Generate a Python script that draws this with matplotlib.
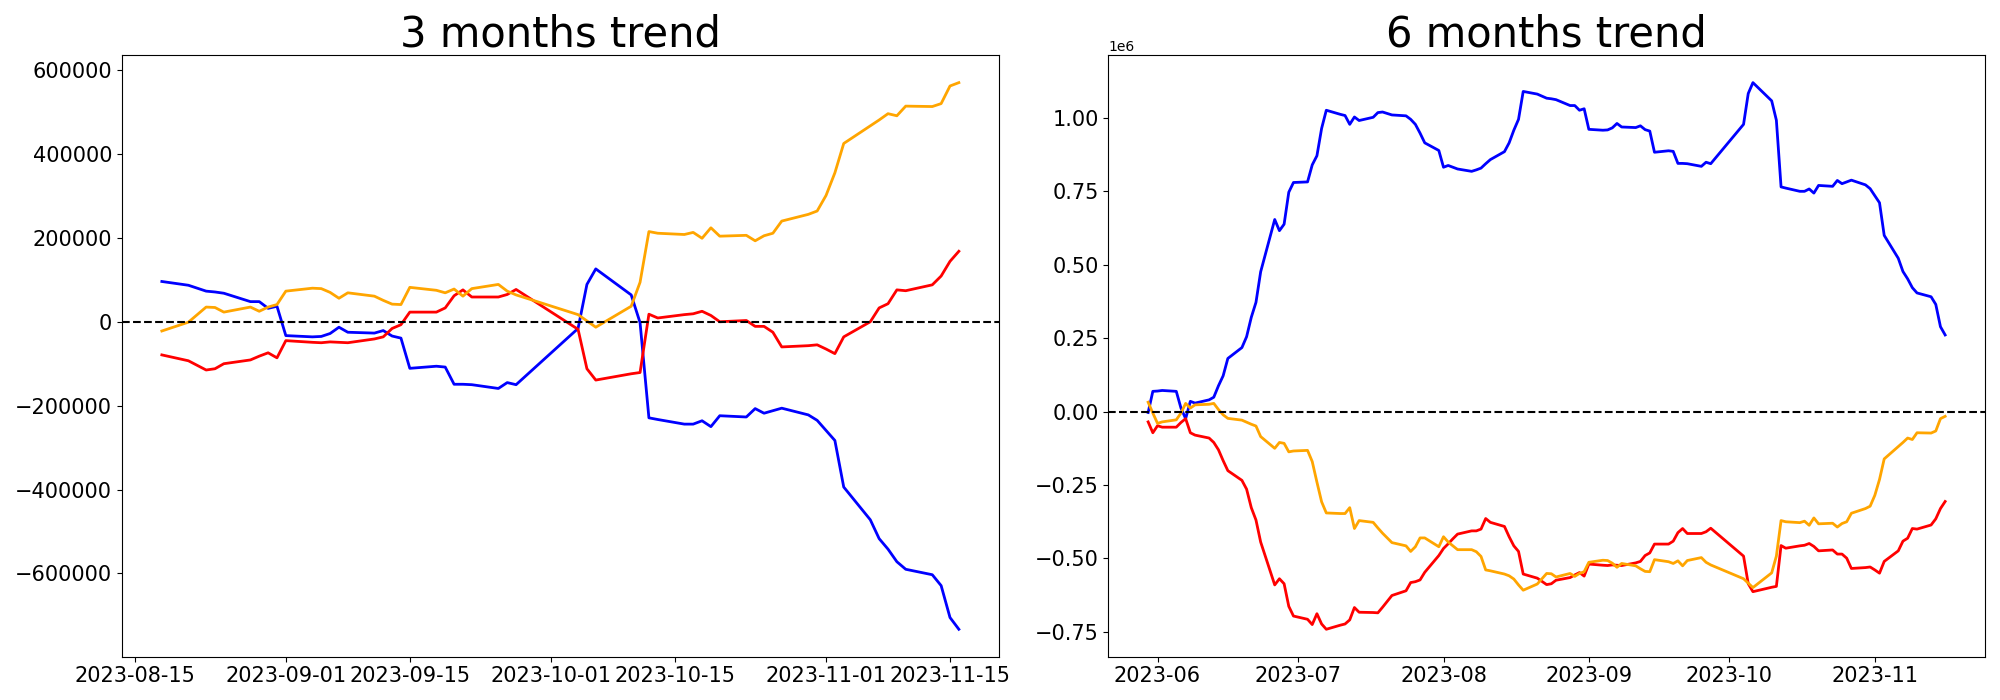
import numpy as np
import pandas as pd
import matplotlib
matplotlib.use('Agg')
import matplotlib.pyplot as plt

# trading days of the 3 month window
dates_3m = ['2023-08-18', '2023-08-21', '2023-08-23', '2023-08-24', '2023-08-25', '2023-08-28',
            '2023-08-29', '2023-08-30', '2023-08-31',
            '2023-09-01', '2023-09-04', '2023-09-05', '2023-09-06', '2023-09-07', '2023-09-08',
            '2023-09-11', '2023-09-12', '2023-09-13', '2023-09-14', '2023-09-15', '2023-09-18',
            '2023-09-19', '2023-09-20', '2023-09-21', '2023-09-22', '2023-09-25', '2023-09-26',
            '2023-09-27',
            '2023-10-04', '2023-10-05', '2023-10-06', '2023-10-10', '2023-10-11', '2023-10-12',
            '2023-10-13', '2023-10-16', '2023-10-17', '2023-10-18', '2023-10-19', '2023-10-20',
            '2023-10-23', '2023-10-24', '2023-10-25', '2023-10-26', '2023-10-27', '2023-10-30',
            '2023-10-31',
            '2023-11-01', '2023-11-02', '2023-11-03', '2023-11-06', '2023-11-07', '2023-11-08',
            '2023-11-09', '2023-11-10', '2023-11-13', '2023-11-14', '2023-11-15', '2023-11-16']

blue_3m = [96000, 87000, 73000, 71000, 68000, 48000, 48000, 32000, 37000,
           -33000, -36000, -35000, -28000, -13000, -25000, -27000, -21000, -34000, -39000,
           -111000, -106000, -108000, -149000, -149000, -150000, -159000, -145000, -150000,
           -16000, 89000, 126000, 64000, -2000, -229000, -233000, -244000, -244000, -236000,
           -250000, -224000, -227000, -207000, -218000, -212000, -206000, -222000, -235000,
           -259000, -283000, -394000, -472000, -517000, -542000, -572000, -590000, -603000,
           -629000, -705000, -733000]
red_3m = [-79000, -93000, -115000, -112000, -100000, -91000, -82000, -74000, -86000,
          -45000, -49000, -50000, -48000, -49000, -50000, -41000, -36000, -16000, -7000,
          23000, 23000, 33000, 62000, 76000, 59000, 59000, 65000, 77000,
          -18000, -112000, -139000, -124000, -121000, 18000, 9000, 17000, 19000, 25000,
          15000, 0, 3000, -11000, -11000, -25000, -60000, -57000, -55000,
          -65000, -76000, -36000, 0, 33000, 43000, 76000, 74000, 88000, 109000, 144000, 168000]
orange_3m = [-22000, -1000, 35000, 34000, 23000, 35000, 25000, 35000, 41000,
             73000, 80000, 79000, 70000, 56000, 69000, 61000, 51000, 42000, 41000,
             82000, 75000, 69000, 78000, 61000, 79000, 89000, 73000, 64000,
             17000, 2000, -13000, 37000, 94000, 215000, 211000, 208000, 213000, 199000,
             224000, 204000, 206000, 193000, 205000, 211000, 240000, 256000, 264000,
             301000, 355000, 425000, 467000, 481000, 496000, 491000, 514000, 513000,
             520000, 562000, 570000]

# trading days before the 3 month window (6 month chart)
dates_early = ['2023-05-30', '2023-05-31',
               '2023-06-01', '2023-06-02', '2023-06-05', '2023-06-06', '2023-06-07', '2023-06-08',
               '2023-06-09', '2023-06-12', '2023-06-13', '2023-06-14', '2023-06-15', '2023-06-16',
               '2023-06-19', '2023-06-20', '2023-06-21', '2023-06-22', '2023-06-23', '2023-06-26',
               '2023-06-27', '2023-06-28', '2023-06-29', '2023-06-30',
               '2023-07-03', '2023-07-04', '2023-07-05', '2023-07-06', '2023-07-07', '2023-07-10',
               '2023-07-11', '2023-07-12', '2023-07-13', '2023-07-14', '2023-07-17', '2023-07-18',
               '2023-07-19', '2023-07-20', '2023-07-21', '2023-07-24', '2023-07-25', '2023-07-26',
               '2023-07-27', '2023-07-28', '2023-07-31',
               '2023-08-01', '2023-08-02', '2023-08-03', '2023-08-04', '2023-08-07', '2023-08-08',
               '2023-08-09', '2023-08-10', '2023-08-11', '2023-08-14', '2023-08-15', '2023-08-16',
               '2023-08-17']
dates_6m = dates_early + dates_3m

# 6 month values in millions
blue_6m = [-0.003, 0.069,
           0.070, 0.072, 0.069, 0.012, -0.024, 0.035, 0.029, 0.040, 0.049, 0.088, 0.122, 0.181,
           0.218, 0.255, 0.321, 0.372, 0.476, 0.654, 0.616, 0.638, 0.747, 0.780,
           0.782, 0.840, 0.871, 0.964, 1.026, 1.012, 1.008, 0.978, 1.003, 0.991, 1.002, 1.018,
           1.020, 1.015, 1.010, 1.007, 0.995, 0.978, 0.948, 0.915, 0.889,
           0.832, 0.838, 0.832, 0.826, 0.818, 0.823, 0.829, 0.844, 0.858, 0.885, 0.915, 0.958,
           0.995,
           1.090, 1.081, 1.067, 1.065, 1.062, 1.042, 1.042, 1.026, 1.031,
           0.961, 0.958, 0.959, 0.966, 0.981, 0.969, 0.967, 0.973, 0.960, 0.955,
           0.883, 0.888, 0.886, 0.845, 0.845, 0.844, 0.835, 0.849, 0.844,
           0.978, 1.083, 1.120, 1.058, 0.992, 0.765, 0.761, 0.750, 0.750, 0.758,
           0.744, 0.770, 0.767, 0.787, 0.776, 0.782, 0.788, 0.772, 0.759,
           0.735, 0.711, 0.600, 0.522, 0.477, 0.452, 0.422, 0.404, 0.391, 0.365, 0.289, 0.261]
red_6m = [-0.035, -0.072,
          -0.048, -0.053, -0.053, -0.037, -0.024, -0.072, -0.080, -0.090, -0.105, -0.130,
          -0.167, -0.201, -0.234, -0.264, -0.327, -0.369, -0.444, -0.590, -0.569, -0.586,
          -0.663, -0.696,
          -0.707, -0.725, -0.688, -0.723, -0.741, -0.727, -0.723, -0.709, -0.667, -0.683,
          -0.684, -0.685, -0.666, -0.646, -0.626, -0.610, -0.582, -0.579, -0.573, -0.547,
          -0.490,
          -0.466, -0.450, -0.433, -0.417, -0.406, -0.406, -0.400, -0.364, -0.377, -0.391,
          -0.426, -0.457, -0.476,
          -0.553, -0.567, -0.589, -0.586, -0.574, -0.565, -0.556, -0.548, -0.560,
          -0.519, -0.523, -0.524, -0.522, -0.523, -0.524, -0.515, -0.510, -0.490, -0.481,
          -0.451, -0.451, -0.441, -0.412, -0.398, -0.415, -0.415, -0.409, -0.397,
          -0.492, -0.586, -0.613, -0.598, -0.595, -0.456, -0.465, -0.457, -0.455, -0.449,
          -0.459, -0.474, -0.471, -0.485, -0.485, -0.499, -0.534, -0.531, -0.529,
          -0.539, -0.550, -0.510, -0.474, -0.441, -0.431, -0.398, -0.400, -0.386, -0.365,
          -0.330, -0.306]
orange_6m = [0.032, -0.005,
             -0.040, -0.035, -0.028, -0.005, 0.028, 0.012, 0.023, 0.025, 0.028, 0.007, -0.011,
             -0.023, -0.029, -0.036, -0.043, -0.049, -0.085, -0.125, -0.105, -0.108, -0.137,
             -0.134,
             -0.132, -0.170, -0.240, -0.307, -0.345, -0.347, -0.347, -0.327, -0.398, -0.371,
             -0.377, -0.396, -0.414, -0.430, -0.446, -0.457, -0.476, -0.460, -0.430, -0.430,
             -0.460,
             -0.426, -0.444, -0.457, -0.470, -0.470, -0.477, -0.493, -0.539, -0.542, -0.553,
             -0.559, -0.570, -0.590,
             -0.608, -0.587, -0.551, -0.552, -0.563, -0.551, -0.561, -0.551, -0.545,
             -0.513, -0.506, -0.507, -0.516, -0.530, -0.517, -0.525, -0.535, -0.544, -0.545,
             -0.504, -0.511, -0.517, -0.508, -0.525, -0.507, -0.497, -0.513, -0.522,
             -0.569, -0.584, -0.599, -0.549, -0.492, -0.371, -0.375, -0.378, -0.373, -0.387,
             -0.362, -0.382, -0.380, -0.393, -0.381, -0.375, -0.346, -0.330, -0.322,
             -0.285, -0.231, -0.161, -0.119, -0.105, -0.090, -0.095, -0.072, -0.073, -0.066,
             -0.024, -0.016]

titles = ["3 months trend", "6 months trend"]


def plot_trend(ax, dates, blue, red, orange, title):
    x = pd.to_datetime(dates)
    ax.plot(x, blue, color='blue', linewidth=2)
    ax.plot(x, red, color='red', linewidth=2)
    ax.plot(x, orange, color='orange', linewidth=2)
    ax.axhline(0, color='black', linestyle='--', linewidth=1.5)
    ax.set_title(title, fontsize=30)
    ax.tick_params(labelsize=15)


fig, axes = plt.subplots(1, 2, figsize=(20, 7))
plot_trend(axes[0], dates_3m, blue_3m, red_3m, orange_3m, titles[0])
plot_trend(axes[1], dates_6m, np.array(blue_6m) * 1e6, np.array(red_6m) * 1e6,
           np.array(orange_6m) * 1e6, titles[1])
plt.subplots_adjust(left=0.061, right=0.9925, bottom=0.062, top=0.921, wspace=0.125)
plt.savefig("out.png", dpi=100)
